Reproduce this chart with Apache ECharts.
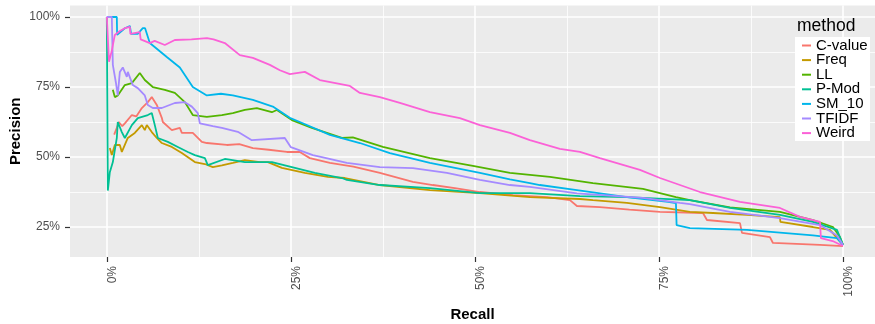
<!DOCTYPE html>
<html>
<head>
<meta charset="utf-8">
<script src="https://cdn.jsdelivr.net/npm/echarts@6/dist/echarts.min.js"></script>
<style>
html,body{margin:0;padding:0;background:#fff;}
#chart{width:875px;height:324px;}
</style>
</head>
<body>
<div id="chart"></div>
<script>
// ---- data (recall %, precision %) ----
const methods = ['C-value','Freq','LL','P-Mod','SM_10','TFIDF','Weird'];
const colors = ['#F8766D','#C49A00','#53B400','#00C094','#00B6EB','#A58AFF','#FB61D7'];
const xTicks = [0,25,50,75,100];
const yTicks = [25,50,75,100];
const xMinor = [12.5,37.5,62.5,87.5];
const yMinor = [37.5,62.5,87.5];

const cValue = [[1.0,58],[1.36,60.4],[1.63,62.5],[2.1,61],[2.45,62],[3.4,65],[4.0,64.5],[4.76,67.5],[5.57,69.6],[6.11,71.4],[6.79,68.6],[7.47,64],[7.61,62.5],[8.83,59.6],[9.92,60.4],[10.19,58.6],[11.68,58.6],[11.96,57.9],[12.91,55.4],[13.59,55],[16.3,54.3],[18.0,54.6],[19.84,53.2],[22.0,52.6],[24.46,51.8],[26.22,51.8],[27.58,49.6],[30.3,47.9],[33.5,46.6],[37.09,44.3],[41.58,41.1],[44.29,40],[47.5,38.8],[50.68,37.5],[55.16,36.4],[59.78,35.7],[62.91,34.6],[63.86,32.5],[66.98,32.1],[71.0,31.2],[75.14,30.4],[80.98,30],[81.52,27.5],[86.01,26.4],[86.28,22.9],[90.08,21.4],[90.49,19.3],[96.88,18.6],[100,18.2]];
const freq = [[0.41,53.2],[0.68,50.7],[1.09,54.3],[1.77,54.3],[2.04,51.8],[2.85,56.8],[3.8,58.6],[4.76,61.4],[5.16,59.6],[5.43,61.4],[6.11,58.9],[6.79,56.8],[7.47,55],[8.83,53.6],[10.19,51.4],[11.96,48.2],[13.32,47.5],[14.4,46.4],[15.63,47],[17.12,47.9],[18.75,48.9],[20.79,48.2],[21.88,48.2],[23.78,46.1],[26.9,44.3],[30.03,42.9],[32.34,42.5],[37.09,40],[43.89,38.2],[50.68,37.1],[57.47,35.7],[64.27,35],[66.03,34.6],[70.65,33.6],[75.14,32.1],[79.21,30.4],[82.34,30],[86.96,29.3],[91.44,28.5],[91.5,26.8],[95.92,25],[98.23,24],[100,18.6]];
const ll = [[0.82,74],[1.09,71.4],[1.49,72],[2.45,75.7],[3.4,76.4],[4.48,80],[5.16,77.5],[6.25,75],[7.88,74],[9.24,72.9],[10.6,69.6],[11.68,65],[13.59,64.3],[15.63,65],[17.12,65.7],[18.75,66.8],[20.38,67.5],[22.42,66],[23.1,66.8],[25.14,63.2],[27.85,60.4],[31.93,56.8],[33.42,57],[37.5,53.6],[43.89,49.6],[49.73,46.8],[54.76,44.3],[60.19,42.9],[66.03,40.7],[72.83,38.6],[77.31,35.7],[79.21,34.6],[84.65,32],[91.44,30.4],[95.92,27.5],[98.64,25],[99.59,21.4],[100,18.6]];
const pMod = [[0,100],[0.14,100],[0.14,38],[0.41,44.6],[0.82,48.2],[1.36,56.8],[1.49,62.5],[2.04,58.9],[2.45,56.8],[3.4,61.4],[4.21,63.9],[5.57,65],[6.11,65.7],[6.52,61.4],[6.93,56.8],[8.29,55.4],[9.65,53.6],[11.01,51.8],[11.96,50.7],[13.32,49.6],[13.72,47.1],[16.03,49.3],[18.75,48.2],[22.42,48.2],[25.14,46.4],[28.26,44.3],[31.93,42.5],[32.61,41.8],[37.09,40],[43.89,38.9],[50.68,37.1],[57.47,37.1],[64.27,36],[70.65,35.7],[79.21,34.6],[84.65,31.8],[91.44,29.3],[95.92,26.8],[99.18,24],[100,18.6]];
const sm10 = [[0,100],[1.36,100],[1.4,93.6],[2.45,96],[3.13,96.8],[3.3,94],[4.2,94],[4.89,96],[5.2,96],[5.84,90.7],[8.15,85.7],[9.92,82],[11.68,75],[13.59,72],[15.5,72.6],[17.12,72],[19.84,70.4],[22.55,68],[24.86,64],[26.22,62.5],[30.3,57.9],[34.38,55],[38.45,51.4],[43.89,47.9],[50.68,44.3],[54.76,42],[57.47,40.7],[58.83,40],[63.86,38.2],[70.65,35.7],[76.22,34],[77.31,33.5],[77.4,25.7],[79.21,24.6],[86.96,24],[95.92,22],[99.18,21],[100,18.6]];
const tfidf = [[0,100],[0.68,100],[0.82,82.9],[1.22,76.8],[1.49,72],[1.77,80.4],[2.17,82],[2.72,78.6],[2.85,80.4],[3.53,75.7],[4.21,74.6],[5.16,72],[5.57,68.6],[6.25,67.5],[7.47,67.5],[9.24,69.3],[10.6,69.6],[11.55,68],[12.36,65.7],[12.64,62],[14.4,61],[15.63,60.4],[17.8,59],[19.7,56],[24.18,56.8],[25.0,53.5],[27.99,50.7],[29.21,50],[32.61,47.9],[37.09,46.4],[41.58,46],[46.2,44.3],[50.68,41.8],[54.76,40],[57.47,39.3],[63.86,37],[72.83,35.4],[77.85,33.6],[79.21,33.2],[84.65,30.4],[91.44,28.2],[96.88,25.7],[99.18,22],[100,18.6]];
const weird = [[0,100],[0.27,100],[0.3,84],[0.68,88],[1.09,93.6],[1.77,95],[2.45,96],[3.13,96.5],[3.2,94],[4.48,94.6],[4.6,92],[5.84,90.7],[6.5,91.5],[7.88,90],[9.24,91.8],[11.5,92],[13.59,92.5],[14.5,92],[16.03,90.7],[18.07,86.4],[19.84,85.4],[22.15,82.9],[23.51,81],[24.86,79.6],[26.9,80.4],[28.94,77.5],[33.02,75.4],[34.38,72.9],[37.09,71.4],[39.81,69.3],[43.89,66],[47.96,63.9],[50.68,61.4],[54.76,58.6],[57.47,56],[61.55,52.9],[64.27,51.8],[66.98,49.6],[72.42,45.4],[75.14,42.5],[80.57,37.5],[86.01,34],[91.44,31.8],[94.16,28.6],[96.88,26.8],[97.0,21],[98.6,20],[100,18.2]];
const seriesData = [cValue, freq, ll, pMod, sm10, tfidf, weird];

const FONT = 'Liberation Sans, Arial, sans-serif';
const chart = echarts.init(document.getElementById('chart'), null, {renderer:'canvas'});

const gridLines = [].concat(
  xTicks.map(v => ({xAxis: v, lineStyle:{width:1.6}})),
  xMinor.map(v => ({xAxis: v, lineStyle:{width:0.8}})),
  yTicks.map(v => ({yAxis: v, lineStyle:{width:1.6}})),
  yMinor.map(v => ({yAxis: v, lineStyle:{width:0.8}}))
);

const series = methods.map((m, i) => {
  const s = {
    name: m,
    type: 'line',
    data: seriesData[i],
    showSymbol: false,
    symbol: 'none',
    lineStyle: {color: colors[i], width: 1.8},
    itemStyle: {color: colors[i]},
    z: 2,
    silent: true
  };
  if (i === 0) {
    s.markLine = {
      silent: true, z: 1, symbol: ['none','none'], animation: false,
      label: {show: false},
      lineStyle: {color: '#FFFFFF', type: 'solid', width: 1.6},
      emphasis: {disabled: true},
      data: gridLines
    };
  }
  return s;
});

chart.setOption({
  animation: false,
  backgroundColor: '#FFFFFF',
  grid: {left: 70, right: 0, top: 5.6, bottom: 67, show: true, backgroundColor: '#EBEBEB', borderWidth: 0, containLabel: false, outerBoundsMode: 'none'},
  xAxis: {
    type: 'value', min: -5, max: 104.35,
    name: 'Recall', nameLocation: 'middle', nameGap: 50, nameMoveOverlap: false,
    nameTextStyle: {fontFamily: FONT, fontWeight: 'bold', fontSize: 15, color: '#000'},
    axisLine: {show: false, onZero: false},
    axisTick: {show: true, customValues: xTicks, length: 5, lineStyle: {color: '#333333', width: 1.2}},
    axisLabel: {customValues: xTicks, rotate: 90, margin: 9, verticalAlign: 'top', formatter: v => v + '%', fontFamily: FONT, fontSize: 12, color: '#4D4D4D'},
    splitLine: {show: false}
  },
  yAxis: {
    type: 'value', min: 14.29, max: 104.08,
    name: 'Precision', nameLocation: 'middle', nameGap: 47, nameMoveOverlap: false,
    nameTextStyle: {fontFamily: FONT, fontWeight: 'bold', fontSize: 15, color: '#000'},
    axisLine: {show: false, onZero: false},
    axisTick: {show: true, customValues: yTicks, length: 5, lineStyle: {color: '#333333', width: 1.2}},
    axisLabel: {customValues: yTicks, margin: 10, formatter: v => v + '%', fontFamily: FONT, fontSize: 12, color: '#4D4D4D'},
    splitLine: {show: false}
  },
  legend: {
    data: methods, orient: 'vertical', left: 802, top: 38,
    icon: 'rect', itemWidth: 9, itemHeight: 2, itemGap: -0.4,
    padding: 0, selectedMode: false,
    textStyle: {fontFamily: FONT, fontSize: 15, color: '#000', lineHeight: 14}
  },
  graphic: [
    {type: 'rect', z: 3, silent: true, shape: {x: 795, y: 37, width: 75, height: 104}, style: {fill: '#FFFFFF'}},
    {type: 'text', z: 3, silent: true, style: {x: 797, y: 26, text: 'method', font: '17.5px ' + FONT, fill: '#000', verticalAlign: 'middle'}}
  ],
  series: series
});
</script>
</body>
</html>
